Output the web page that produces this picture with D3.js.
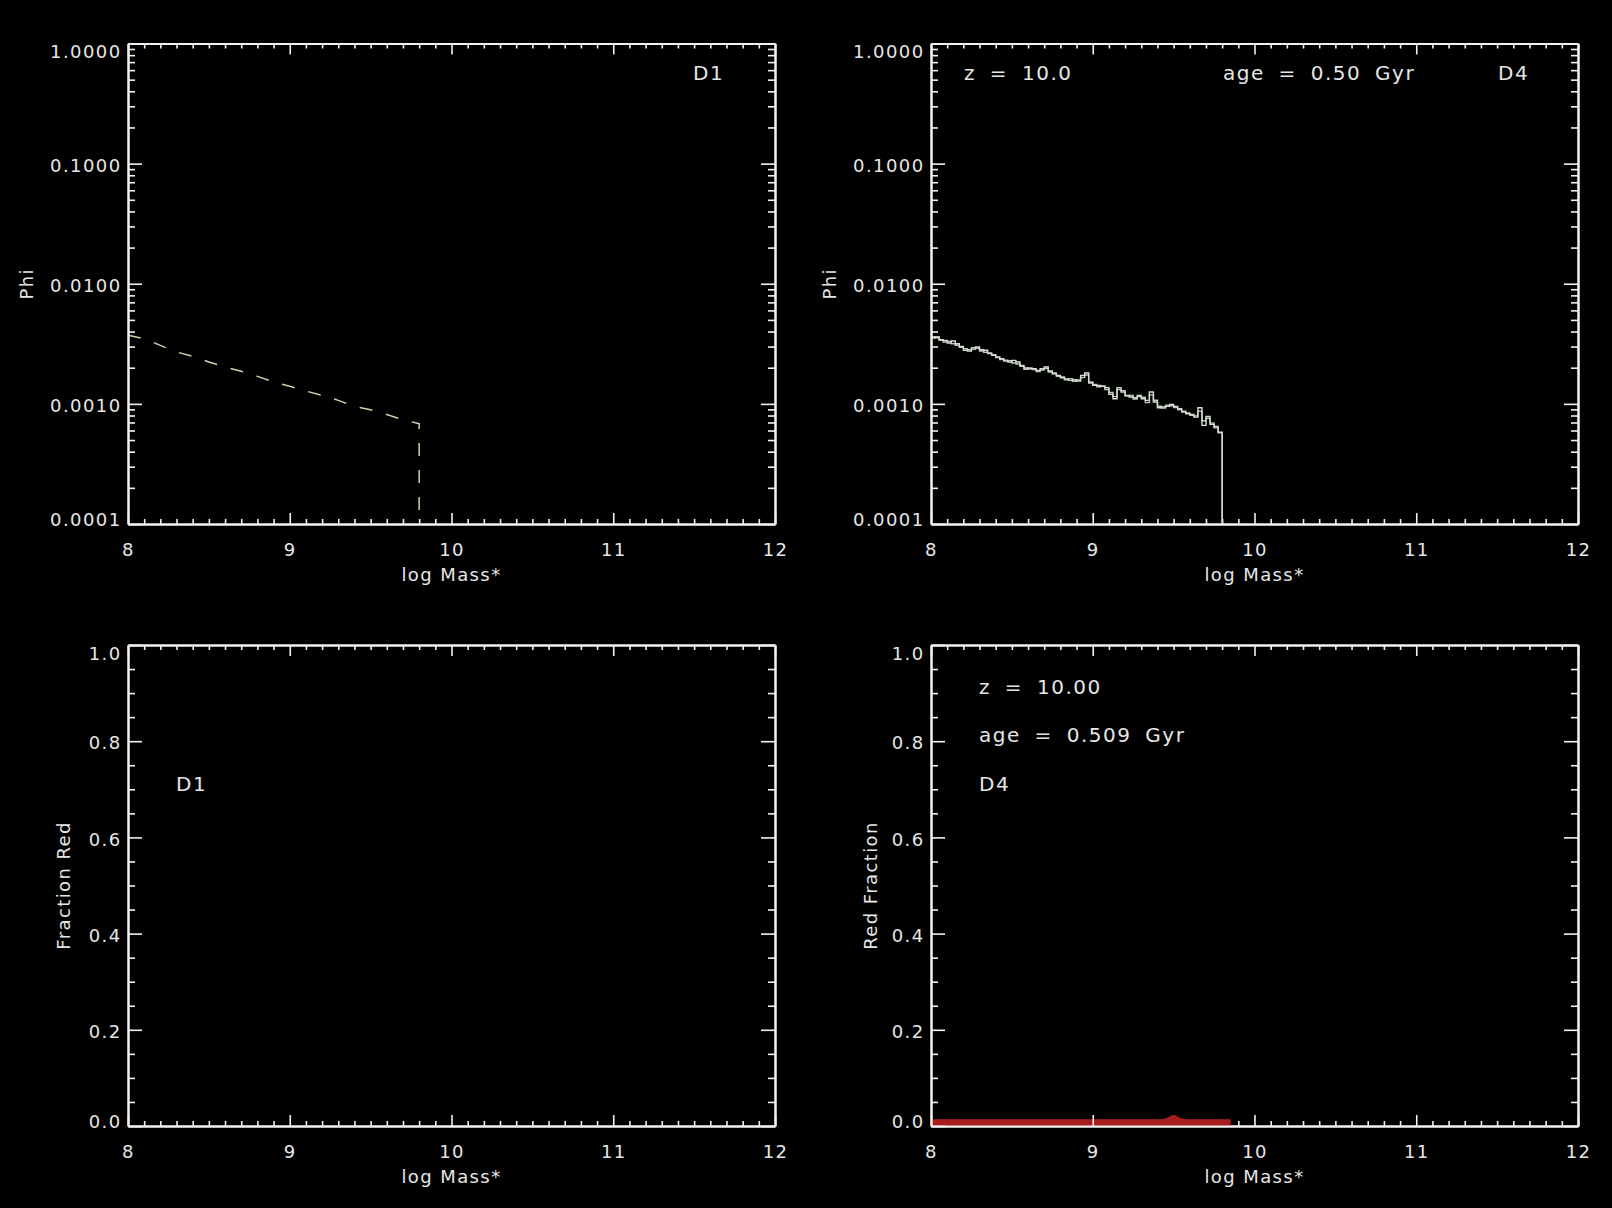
<!DOCTYPE html>
<html>
<head>
<meta charset="utf-8">
<script src="https://cdn.jsdelivr.net/npm/d3@7"></script>
<style>
  html, body { margin: 0; padding: 0; background: #000; }
  svg { display: block; background: #000; }
  text { font-family: "DejaVu Sans", "Liberation Sans", sans-serif; fill: #e6e6e6; }
  .axis .domain { stroke: #f2f2f2; stroke-width: 2; }
  .axis .tick line { stroke: #f2f2f2; stroke-width: 1.6; }
  .axis text { font-size: 18px; letter-spacing: 1.4px; fill: #e6e6e6; }
  .title { font-size: 18px; letter-spacing: 1.4px; }
  .note { font-size: 20px; letter-spacing: 1.5px; word-spacing: 6px; }
</style>
</head>
<body>
<svg id="chart" width="1612" height="1208"></svg>
<script>
// ---- D1: model mass function (log10 Phi per bin), truncated at the mass cut
const d1Mass   = [8.0, 8.1, 8.2, 8.3, 8.4, 8.5, 8.6, 8.7, 8.8, 8.9,
                  9.0, 9.1, 9.2, 9.3, 9.4, 9.5, 9.6, 9.7, 9.8];
const d1LogPhi = [-2.429, -2.457, -2.513, -2.568, -2.604, -2.651, -2.693, -2.729, -2.771, -2.818,
                  -2.854, -2.893, -2.929, -2.971, -3.021, -3.049, -3.088, -3.132, -3.165];

// ---- D4: two histogram realisations (log10 Phi), bins of 0.025 dex from 8.0
const d4BinStart = 8.0;
const d4BinWidth = 0.025;
const d4LogPhiA = [
  -2.443, -2.449, -2.465, -2.471, -2.493, -2.476, -2.499, -2.521, -2.554, -2.560,
  -2.532, -2.526, -2.549, -2.554, -2.576, -2.596, -2.610, -2.624, -2.643, -2.651,
  -2.638, -2.651, -2.688, -2.701, -2.707, -2.707, -2.721, -2.707, -2.693, -2.726,
  -2.749, -2.763, -2.782, -2.793, -2.804, -2.799, -2.810, -2.763, -2.743, -2.826,
  -2.846, -2.846, -2.854, -2.865, -2.921, -2.957, -2.865, -2.901, -2.929, -2.943,
  -2.949, -2.929, -2.957, -2.971, -2.901, -2.985, -3.032, -3.026, -3.021, -3.004,
  -3.021, -3.040, -3.068, -3.082, -3.088, -3.110, -3.032, -3.179, -3.104, -3.171,
  -3.188, -3.235];
const d4LogPhiB = [
  -2.452, -2.440, -2.470, -2.485, -2.480, -2.500, -2.512, -2.530, -2.540, -2.548,
  -2.545, -2.538, -2.560, -2.570, -2.582, -2.590, -2.615, -2.630, -2.636, -2.640,
  -2.660, -2.668, -2.680, -2.712, -2.700, -2.715, -2.730, -2.718, -2.705, -2.735,
  -2.742, -2.770, -2.775, -2.800, -2.790, -2.812, -2.800, -2.780, -2.760, -2.818,
  -2.838, -2.858, -2.850, -2.880, -2.905, -2.940, -2.880, -2.890, -2.935, -2.930,
  -2.960, -2.940, -2.945, -2.990, -2.925, -2.970, -3.020, -3.035, -3.010, -3.015,
  -3.030, -3.050, -3.060, -3.075, -3.095, -3.100, -3.060, -3.140, -3.120, -3.160,
  -3.200, -3.240];
const massCut = 9.8;

// ---- D4: red fraction with its uncertainty band
const redMass = [8.0, 8.1, 8.2, 8.3, 8.4, 8.5, 8.6, 8.7, 8.8, 8.9, 9.0,
                 9.1, 9.2, 9.3, 9.4, 9.45, 9.5, 9.55, 9.6, 9.7, 9.8, 9.85];
const redFrac = [0, 0, 0, 0, 0, 0, 0, 0, 0, 0, 0,
                 0, 0, 0, 0, 0, 0, 0, 0, 0, 0, 0];
const redErr  = [0.013, 0.013, 0.013, 0.013, 0.013, 0.013, 0.013, 0.013, 0.013, 0.013, 0.013,
                 0.013, 0.013, 0.013, 0.013, 0.015, 0.022, 0.015, 0.013, 0.013, 0.013, 0.013];

// ---- axis ticks and labels
const massTicks   = [8, 9, 10, 11, 12];
const phiTicks    = [0.0001, 0.001, 0.01, 0.1, 1];
const phiLabels   = ["0.0001", "0.0010", "0.0100", "0.1000", "1.0000"];
const fracTicks   = [0, 0.2, 0.4, 0.6, 0.8, 1.0];
const fracLabels  = ["0.0", "0.2", "0.4", "0.6", "0.8", "1.0"];
const massMinor   = d3.range(80, 121).map(v => v / 10).filter(v => !massTicks.includes(v));
const phiMinor    = [0.0001, 0.001, 0.01, 0.1].flatMap(d => d3.range(2, 10).map(m => m * d));
const fracMinor   = d3.range(0, 21).map(v => v * 0.05).filter(v => Math.round(v * 100) % 20 !== 0);

// ---- layout
const cols = [{ x0: 128, x1: 775 }, { x0: 931, x1: 1578 }];
const rows = [{ y0: 43.5, y1: 524 }, { y0: 645, y1: 1126 }];

const svg = d3.select("#chart");
svg.append("rect").attr("width", 1612).attr("height", 1208).attr("fill", "#000");

function makePanel(col, row, kind) {
  const c = cols[col], r = rows[row];
  const x = d3.scaleLinear().domain([8, 12]).range([c.x0, c.x1]);
  const y = kind === "phi"
    ? d3.scaleLog().domain([0.0001, 1]).range([r.y1, r.y0])
    : d3.scaleLinear().domain([0, 1]).range([r.y1, r.y0]);
  const g = svg.append("g");
  const minorY = kind === "phi" ? phiMinor : fracMinor;
  const majorY = kind === "phi" ? phiTicks : fracTicks;
  const labelsY = kind === "phi" ? phiLabels : fracLabels;

  // minor ticks on all four sides
  const minor = g.append("g").attr("class", "axis minor");
  minor.append("g").attr("transform", `translate(0,${r.y1})`)
    .call(d3.axisBottom(x).tickValues(massMinor).tickSizeInner(-5).tickSizeOuter(0).tickFormat(""));
  minor.append("g").attr("transform", `translate(0,${r.y0})`)
    .call(d3.axisTop(x).tickValues(massMinor).tickSizeInner(-5).tickSizeOuter(0).tickFormat(""));
  minor.append("g").attr("transform", `translate(${c.x0},0)`)
    .call(d3.axisLeft(y).tickValues(minorY).tickSizeInner(-7).tickSizeOuter(0).tickFormat(""));
  minor.append("g").attr("transform", `translate(${c.x1},0)`)
    .call(d3.axisRight(y).tickValues(minorY).tickSizeInner(-7).tickSizeOuter(0).tickFormat(""));

  const marks = g.append("g").attr("class", "marks");
  const major = g.append("g").attr("class", "axis major");

  // major ticks with labels
  major.append("g").attr("transform", `translate(0,${r.y1})`)
    .call(d3.axisBottom(x).tickValues(massTicks).tickSizeInner(-11).tickSizeOuter(0)
      .tickPadding(19).tickFormat(d3.format("d")));
  major.append("g").attr("transform", `translate(0,${r.y0})`)
    .call(d3.axisTop(x).tickValues(massTicks).tickSizeInner(-11).tickSizeOuter(0).tickFormat(""));
  const left = major.append("g").attr("transform", `translate(${c.x0},0)`)
    .call(d3.axisLeft(y).tickValues(majorY).tickSizeInner(-14).tickSizeOuter(0)
      .tickPadding(6.5).tickFormat((d, i) => labelsY[i]));
  major.append("g").attr("transform", `translate(${c.x1},0)`)
    .call(d3.axisRight(y).tickValues(majorY).tickSizeInner(-14).tickSizeOuter(0).tickFormat(""));

  // keep the end labels inside the frame height
  left.selectAll(".tick text").each(function (d, i) {
    const t = d3.select(this);
    if (i === 0) t.attr("dy", 0).attr("y", 1);
    else if (i === majorY.length - 1) t.attr("dy", 0).attr("y", 14);
    else t.attr("y", 2);
  });

  // axis titles
  g.append("text").attr("class", "title")
    .attr("x", (c.x0 + c.x1) / 2).attr("y", r.y1 + 57)
    .attr("text-anchor", "middle").text("log Mass*");

  return { g, marks, major, x, y, c, r };
}

function yTitle(p, text, offset) {
  p.g.append("text").attr("class", "title")
    .attr("transform", `translate(${p.c.x0 - offset},${(p.r.y0 + p.r.y1) / 2}) rotate(-90)`)
    .attr("text-anchor", "middle").text(text);
}

function note(p, text, x, y) {
  p.g.append("text").attr("class", "note").attr("x", x).attr("y", y).text(text);
}

// ---------- top-left: D1 mass function
const p1 = makePanel(0, 0, "phi");
yTitle(p1, "Phi", 95);
note(p1, "D1", 693, 80);
const d1Points = d1Mass.map((m, i) => [m, Math.pow(10, d1LogPhi[i])]);
d1Points.push([massCut, 0.0001]);
p1.marks.append("path")
  .datum(d1Points)
  .attr("fill", "none")
  .attr("stroke", "#cfd0a6")
  .attr("stroke-width", 1.5)
  .attr("stroke-dasharray", "13,14")
  .attr("d", d3.line().x(d => p1.x(d[0])).y(d => p1.y(d[1])));

// ---------- top-right: D4 mass function
const p2 = makePanel(1, 0, "phi");
yTitle(p2, "Phi", 95);
note(p2, "z = 10.0", 964, 80);
note(p2, "age = 0.50 Gyr", 1223, 80);
note(p2, "D4", 1498, 80);

function histPoints(logPhi) {
  const pts = logPhi.map((v, i) => [d4BinStart + i * d4BinWidth, Math.pow(10, v)]);
  pts.push([massCut, Math.pow(10, logPhi[logPhi.length - 1])]);
  pts.push([massCut, 0.0001]);
  return pts;
}
const stepLine = d3.line().curve(d3.curveStepAfter)
  .x(d => p2.x(d[0])).y(d => p2.y(d[1]));
p2.marks.append("path").datum(histPoints(d4LogPhiB))
  .attr("fill", "none").attr("stroke", "#b4cfab").attr("stroke-width", 1.4)
  .attr("d", stepLine);
p2.marks.append("path").datum(histPoints(d4LogPhiA))
  .attr("fill", "none").attr("stroke", "#d9d9d9").attr("stroke-width", 1.4)
  .attr("d", stepLine);

// ---------- bottom-left: D1 red fraction (empty)
const p3 = makePanel(0, 1, "frac");
yTitle(p3, "Fraction Red", 58);
note(p3, "D1", 176, 791);

// ---------- bottom-right: D4 red fraction
const p4 = makePanel(1, 1, "frac");
yTitle(p4, "Red Fraction", 54.5);
note(p4, "z = 10.00", 979, 694);
note(p4, "age = 0.509 Gyr", 979, 742);
note(p4, "D4", 979, 791);

const redBand = redMass.map((m, i) => ({ m, lo: Math.max(0, redFrac[i] - redErr[i]), hi: redFrac[i] + redErr[i] }));
p4.marks.append("path")
  .datum(redBand)
  .attr("fill", "#a61d1d")
  .attr("stroke", "#a61d1d")
  .attr("stroke-width", 1)
  .attr("d", d3.area().curve(d3.curveMonotoneX)
    .x(d => p4.x(d.m)).y0(d => p4.y(d.lo)).y1(d => p4.y(d.hi)));
// bring the major axes above the band (minor ticks stay hidden beneath it)
p4.major.raise();
</script>
</body>
</html>
